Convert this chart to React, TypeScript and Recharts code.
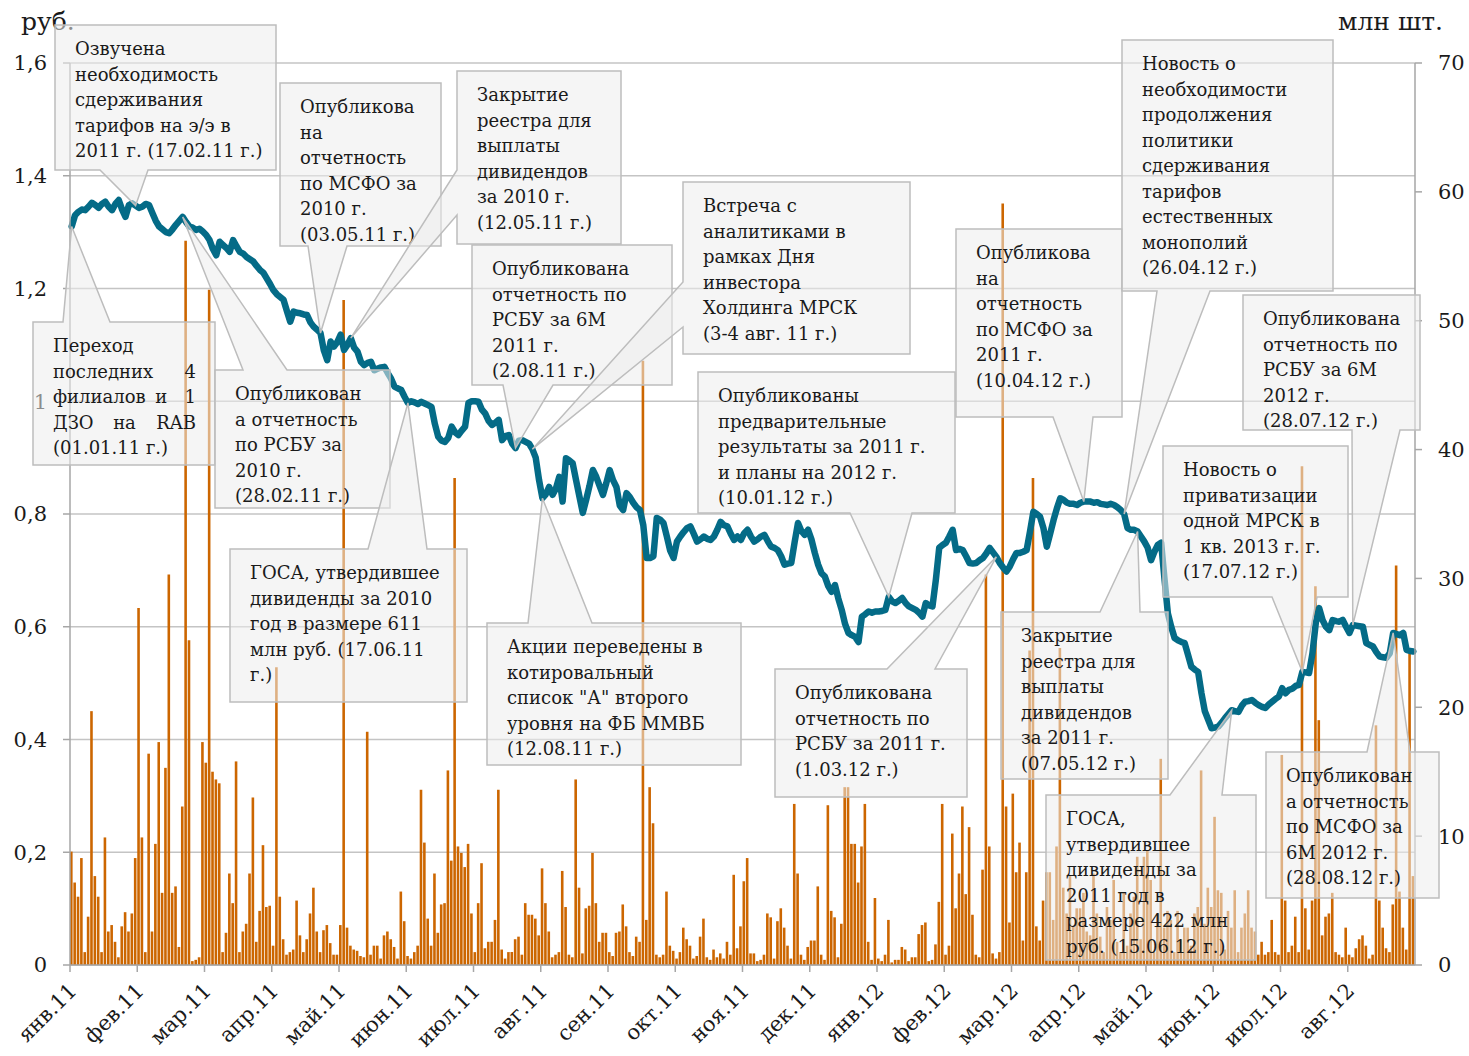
import React from "react";
import {
  Bar,
  CartesianGrid,
  ComposedChart,
  Line,
  ReferenceDot,
  XAxis,
  YAxis,
} from "recharts";

const FONT = "DejaVu Serif";

const months = [
  "янв.11", "фев.11", "мар.11", "апр.11", "май.11", "июн.11", "июл.11",
  "авг.11", "сен.11", "окт.11", "ноя.11", "дек.11", "янв.12", "фев.12",
  "мар.12", "апр.12", "май.12", "июн.12", "июл.12", "авг.12",
];

// цена акции, руб. (примерно по 20 торговых дней на месяц)
const price = [
  1.31, 1.33, 1.336, 1.34, 1.339, 1.345, 1.352, 1.348, 1.343, 1.35, 1.354, 1.345, 1.339, 1.35, 1.357, 1.34, 1.327, 1.348, 1.351, 1.347,
  1.343, 1.345, 1.35, 1.348, 1.334, 1.32, 1.31, 1.305, 1.3, 1.298, 1.305, 1.313, 1.32, 1.327, 1.318, 1.31, 1.308, 1.304, 1.306, 1.301,
  1.295, 1.286, 1.27, 1.259, 1.283, 1.277, 1.272, 1.265, 1.286, 1.275, 1.265, 1.262, 1.256, 1.252, 1.248, 1.24, 1.233, 1.228, 1.218, 1.208,
  1.197, 1.19, 1.185, 1.18, 1.16, 1.141, 1.159, 1.157, 1.156, 1.154, 1.153, 1.14, 1.132, 1.127, 1.121, 1.09, 1.073, 1.106, 1.097, 1.105,
  1.118, 1.091, 1.1, 1.112, 1.095, 1.088, 1.07, 1.064, 1.068, 1.07, 1.055, 1.058, 1.06, 1.061, 1.05, 1.04, 1.026, 1.023, 1.02, 1.008,
  0.997, 1.0, 0.998, 0.995, 0.999, 0.996, 0.993, 0.99, 0.96, 0.937, 0.93, 0.928, 0.935, 0.955, 0.945, 0.94, 0.948, 0.955, 0.997, 1.0,
  1.0, 0.999, 0.985, 0.978, 0.965, 0.958, 0.962, 0.967, 0.931, 0.938, 0.94, 0.925, 0.917, 0.93, 0.931, 0.928, 0.925, 0.915, 0.9, 0.86,
  0.828, 0.835, 0.848, 0.834, 0.845, 0.866, 0.822, 0.899, 0.895, 0.89, 0.86, 0.831, 0.802, 0.825, 0.85, 0.878, 0.866, 0.85, 0.834, 0.855,
  0.878, 0.86, 0.848, 0.815, 0.807, 0.837, 0.83, 0.82, 0.812, 0.807, 0.78, 0.722, 0.722, 0.725, 0.793, 0.79, 0.784, 0.76, 0.735, 0.722,
  0.751, 0.76, 0.768, 0.775, 0.778, 0.765, 0.751, 0.755, 0.76, 0.756, 0.754, 0.76, 0.772, 0.786, 0.78, 0.778, 0.765, 0.754, 0.76, 0.754,
  0.766, 0.772, 0.76, 0.751, 0.755, 0.76, 0.763, 0.752, 0.742, 0.74, 0.736, 0.725, 0.71, 0.712, 0.713, 0.75, 0.784, 0.77, 0.763, 0.772,
  0.755, 0.731, 0.71, 0.695, 0.689, 0.672, 0.662, 0.674, 0.65, 0.63, 0.605, 0.589, 0.585, 0.582, 0.573, 0.618, 0.622, 0.627, 0.625, 0.627,
  0.627, 0.628, 0.63, 0.653, 0.645, 0.642, 0.646, 0.651, 0.642, 0.636, 0.633, 0.63, 0.625, 0.618, 0.642, 0.638, 0.636, 0.683, 0.74, 0.745,
  0.749, 0.76, 0.772, 0.736, 0.738, 0.736, 0.725, 0.713, 0.712, 0.713, 0.718, 0.722, 0.73, 0.74, 0.732, 0.724, 0.713, 0.705, 0.698, 0.707,
  0.72, 0.731, 0.731, 0.733, 0.736, 0.769, 0.804, 0.8, 0.795, 0.775, 0.742, 0.765, 0.789, 0.81, 0.828, 0.825, 0.82, 0.818, 0.818, 0.816,
  0.82, 0.822, 0.822, 0.822, 0.82, 0.821, 0.818, 0.817, 0.816, 0.818, 0.816, 0.812, 0.807, 0.8, 0.775, 0.772, 0.772, 0.769, 0.76, 0.751,
  0.74, 0.718, 0.733, 0.745, 0.749, 0.685, 0.624, 0.6, 0.58, 0.576, 0.573, 0.571, 0.55, 0.529, 0.524, 0.52, 0.482, 0.45, 0.435, 0.42,
  0.421, 0.423, 0.43, 0.438, 0.445, 0.452, 0.45, 0.449, 0.46, 0.467, 0.468, 0.47, 0.465, 0.461, 0.458, 0.456, 0.462, 0.467, 0.472, 0.476,
  0.491, 0.482, 0.488, 0.49, 0.495, 0.497, 0.52, 0.519, 0.518, 0.553, 0.607, 0.633, 0.612, 0.6, 0.594, 0.612, 0.61, 0.609, 0.612, 0.6,
  0.589, 0.603, 0.602, 0.601, 0.6, 0.571, 0.568, 0.565, 0.555, 0.547, 0.546, 0.545, 0.553, 0.589, 0.587, 0.585, 0.589, 0.559, 0.557, 0.556,
];

// объем торгов, млн шт.
const volume = [
  8.8, 6.4, 5.3, 8.3, 1.0, 3.75, 19.7, 6.9, 5.3, 1.0, 9.9, 2.6, 3.1, 1.8, 0.6, 3.0, 4.1, 2.6, 4.0, 8.3,
  27.7, 9.9, 1.0, 16.4, 2.6, 9.4, 17.3, 5.6, 15.3, 30.3, 5.6, 6.1, 1.4, 12.3, 56.2, 25.2, 0.3, 0.4, 0.6, 17.3,
  15.7, 52.4, 15.0, 14.4, 14.1, 1.0, 2.5, 7.1, 4.8, 15.8, 1.0, 2.6, 3.2, 7.1, 13.0, 1.8, 4.2, 9.3, 4.5, 4.6,
  1.5, 23.1, 5.3, 2.0, 0.8, 1.0, 1.2, 5.0, 2.3, 1.0, 2.0, 4.0, 6.0, 2.6, 1.0, 2.7, 3.1, 1.7, 0.8, 0.8,
  3.1, 51.6, 2.9, 1.5, 1.2, 1.1, 0.7, 0.6, 18.1, 0.8, 1.5, 1.5, 0.5, 2.3, 2.6, 2.0, 1.4, 0.5, 5.7, 3.4,
  0.7, 0.5, 1.0, 1.5, 13.6, 9.5, 3.6, 1.5, 7.1, 2.5, 4.7, 4.8, 15.1, 8.1, 37.8, 9.2, 8.7, 7.6, 9.4, 4.0,
  1.0, 4.8, 7.9, 1.3, 1.8, 1.8, 3.5, 13.6, 1.2, 0.5, 1.0, 1.0, 2.0, 2.2, 0.8, 4.8, 3.9, 3.9, 3.6, 2.3,
  7.5, 4.8, 2.6, 0.6, 0.8, 1.0, 7.3, 4.5, 0.8, 0.6, 14.4, 6.0, 0.9, 4.4, 4.6, 8.7, 4.8, 1.8, 2.5, 2.5,
  1.0, 0.7, 2.5, 2.6, 4.7, 3.0, 1.0, 0.7, 2.2, 1.8, 46.9, 3.5, 13.8, 11.0, 0.8, 0.6, 0.8, 5.7, 1.5, 1.1,
  0.5, 1.0, 2.9, 2.0, 1.5, 0.5, 0.7, 2.2, 3.6, 0.6, 0.4, 1.2, 0.6, 0.9, 0.5, 1.8, 0.8, 7.0, 1.3, 3.0,
  6.5, 8.3, 0.9, 0.9, 0.3, 0.4, 0.8, 4.0, 3.7, 0.5, 3.4, 4.4, 2.9, 1.5, 0.5, 12.5, 7.1, 0.8, 0.4, 1.4,
  1.9, 1.9, 6.1, 0.8, 0.4, 12.4, 4.2, 3.7, 0.6, 3.2, 13.8, 13.8, 9.4, 9.4, 6.4, 9.2, 12.5, 1.8, 0.4, 5.2,
  0.5, 0.3, 0.8, 3.5, 0.2, 0.4, 0.4, 1.4, 1.2, 0.3, 0.6, 0.6, 2.4, 3.1, 3.3, 0.3, 0.4, 1.6, 4.9, 12.5,
  0.8, 1.5, 10.2, 4.4, 7.1, 12.3, 5.5, 10.7, 3.9, 0.8, 0.6, 7.4, 30.3, 9.2, 0.9, 0.5, 1.0, 59.1, 12.3, 3.3,
  13.3, 7.2, 9.5, 1.9, 7.2, 24.4, 37.8, 3.0, 1.9, 5.0, 7.2, 7.2, 3.5, 9.2, 24.6, 6.0, 4.0, 6.9, 3.0, 4.4,
  4.4, 5.6, 2.6, 2.3, 7.1, 4.0, 2.2, 1.0, 4.5, 3.5, 6.6, 1.8, 1.0, 5.6, 1.5, 4.0, 5.3, 8.4, 2.0, 8.4,
  8.9, 6.6, 1.0, 4.0, 16.0, 2.9, 4.2, 3.5, 1.0, 4.2, 2.0, 2.9, 2.9, 1.5, 4.0, 4.5, 15.1, 3.2, 6.0, 4.5,
  11.5, 5.8, 5.6, 1.2, 4.2, 2.9, 5.8, 1.0, 2.9, 4.0, 5.8, 2.9, 2.6, 0.8, 1.8, 0.8, 1.0, 3.5, 1.0, 0.8,
  16.3, 5.0, 1.0, 1.5, 3.75, 1.0, 38.7, 4.4, 1.2, 5.0, 29.4, 19.0, 2.3, 3.75, 4.0, 5.6, 1.0, 0.8, 0.6, 2.9,
  0.8, 0.6, 1.3, 2.0, 2.3, 1.5, 0.5, 0.8, 18.6, 5.0, 2.9, 1.3, 1.0, 4.7, 31.0, 5.7, 2.9, 1.2, 24.2, 6.9,
];

// события: текст и номер торгового дня, на который указывает выноска
const noteTexts = [
  ["Озвучена", "необходимость", "сдерживания", "тарифов на э/э в", "2011 г. (17.02.11 г.)"],
  ["Переход", "последних 4", "филиалов и 1", "ДЗО на RAB", "(01.01.11 г.)"],
  ["Опубликован", "а отчетность", "по РСБУ за", "2010 г.", "(28.02.11 г.)"],
  ["Опубликова", "на", "отчетность", "по МСФО за", "2010 г.", "(03.05.11 г.)"],
  ["Закрытие", "реестра для", "выплаты", "дивидендов", "за 2010 г.", "(12.05.11 г.)"],
  ["Опубликована", "отчетность по", "РСБУ за 6М", "2011 г.", "(2.08.11 г.)"],
  ["Встреча с", "аналитиками в", "рамках Дня", "инвестора", "Холдинга МРСК", "(3-4 авг. 11 г.)"],
  ["Опубликованы", "предварительные", "результаты за 2011 г.", "и планы на 2012 г.", "(10.01.12 г.)"],
  ["Акции переведены в", "котировальный", "список \"А\" второго", "уровня на ФБ ММВБ", "(12.08.11 г.)"],
  ["ГОСА, утвердившее", "дивиденды за 2010", "год в размере 611", "млн руб. (17.06.11", "г.)"],
  ["Опубликована", "отчетность по", "РСБУ за 2011 г.", "(1.03.12 г.)"],
  ["Закрытие", "реестра для", "выплаты", "дивидендов", "за 2011 г.", "(07.05.12 г.)"],
  ["Опубликова", "на", "отчетность", "по МСФО за", "2011 г.", "(10.04.12 г.)"],
  ["Новость о", "необходимости", "продолжения", "политики", "сдерживания", "тарифов", "естественных", "монополий", "(26.04.12 г.)"],
  ["Новость о", "приватизации", "одной МРСК в", "1 кв. 2013 г. г.", "(17.07.12 г.)"],
  ["Опубликована", "отчетность по", "РСБУ за 6М", "2012 г.", "(28.07.12 г.)"],
  ["ГОСА,", "утвердившее", "дивиденды за", "2011 год в", "размере 422 млн", "руб. (15.06.12 г.)"],
  ["Опубликован", "а отчетность", "по МСФО за", "6М 2012 г.", "(28.08.12 г.)"],
];
const noteDays = [19, 0, 33, 74, 83, 132, 137, 243, 140, 100, 275, 317, 301, 313, 366, 381, 345, 393];

// расположение выносок в пикселях: прямоугольник и основание "хвоста"
type Box = { x: number; y: number; w: number; h: number; side: "top" | "bottom" | "left"; a: number; b: number; justify?: boolean };
const boxes: Box[] = [
  { x: 55, y: 25, w: 221, h: 145, side: "bottom", a: 100, b: 148 },
  { x: 33, y: 322, w: 182, h: 143, side: "top", a: 63, b: 110, justify: true },
  { x: 215, y: 370, w: 175, h: 138, side: "top", a: 243, b: 287 },
  { x: 280, y: 83, w: 161, h: 163, side: "bottom", a: 308, b: 347 },
  { x: 457, y: 71, w: 164, h: 173, side: "left", a: 170, b: 215 },
  { x: 472, y: 245, w: 200, h: 140, side: "bottom", a: 503, b: 553 },
  { x: 683, y: 182, w: 227, h: 172, side: "left", a: 282, b: 327 },
  { x: 698, y: 372, w: 257, h: 141, side: "bottom", a: 850, b: 912 },
  { x: 487, y: 623, w: 254, h: 142, side: "top", a: 528, b: 592 },
  { x: 230, y: 549, w: 237, h: 153, side: "top", a: 368, b: 427 },
  { x: 775, y: 669, w: 192, h: 128, side: "top", a: 887, b: 935 },
  { x: 1001, y: 612, w: 167, h: 167, side: "top", a: 1100, b: 1140 },
  { x: 956, y: 229, w: 166, h: 188, side: "bottom", a: 1053, b: 1093 },
  { x: 1122, y: 40, w: 211, h: 251, side: "bottom", a: 1157, b: 1210 },
  { x: 1163, y: 446, w: 185, h: 151, side: "bottom", a: 1272, b: 1317 },
  { x: 1243, y: 295, w: 177, h: 135, side: "bottom", a: 1352, b: 1400 },
  { x: 1046, y: 795, w: 210, h: 165, side: "top", a: 1170, b: 1222 },
  { x: 1266, y: 752, w: 173, h: 146, side: "top", a: 1367, b: 1410 },
];

const data = price.map((p, i) => ({ x: i + 0.5, price: p, volume: volume[i] }));

const monthTicks = months.map((_, k) => k * 20);
const priceTicks = [0, 0.2, 0.4, 0.6, 0.8, 1, 1.2, 1.4, 1.6];
const volumeTicks = [0, 10, 20, 30, 40, 50, 60, 70];

const fmtPrice = (v: number) => String(+v.toFixed(1)).replace(".", ",");

const MonthTick = (props: any) => {
  const { x, y, payload } = props;
  return (
    <text
      transform={`translate(${x + 8},${y + 18}) rotate(-45)`}
      textAnchor="end"
      fontSize={21}
      fontFamily={FONT}
      fill="#1a1a1a"
    >
      {months[Math.round(payload.value / 20)]}
    </text>
  );
};

// грубая ширина слова для выравнивания строки по ширине
const wordWidth = (s: string) =>
  [...s].reduce((acc, ch) => acc + (/[А-ЯA-Z]/.test(ch) ? 13 : 10.5), 0);

const textProps = { fontSize: 18, fontFamily: FONT, fill: "#1a1a1a" };

const JustifiedLine = ({ text, x0, x1, y }: { text: string; x0: number; x1: number; y: number }) => {
  const words = text.split(" ");
  const first = words[0];
  const last = words[words.length - 1];
  const mid = words.slice(1, -1).join(" ");
  const midX = (x0 + wordWidth(first) + x1 - wordWidth(last)) / 2;
  return (
    <g>
      <text x={x0} y={y} {...textProps}>{first}</text>
      {mid && <text x={midX} y={y} textAnchor="middle" {...textProps}>{mid}</text>}
      <text x={x1} y={y} textAnchor="end" {...textProps}>{last}</text>
    </g>
  );
};

const Callout = ({ cx, cy, box, lines }: { cx: number; cy: number; box: Box; lines: string[] }) => {
  const { x, y, w, h, side, a, b, justify } = box;
  const r = x + w;
  const btm = y + h;
  let d = "";
  if (side === "bottom") d = `M${x},${y}H${r}V${btm}H${b}L${cx},${cy}L${a},${btm}H${x}Z`;
  else if (side === "top") d = `M${x},${y}H${a}L${cx},${cy}L${b},${y}H${r}V${btm}H${x}Z`;
  else d = `M${x},${y}H${r}V${btm}H${x}V${b}L${cx},${cy}L${x},${a}Z`;
  return (
    <g>
      <path d={d} fill="#EDEDED" fillOpacity={0.55} stroke="#BDBDBD" strokeWidth={1.5} />
      {lines.map((t, k) => {
        const ty = y + 30 + k * 25.5;
        if (justify && k > 0 && k < lines.length - 1) {
          return <JustifiedLine key={k} text={t} x0={x + 20} x1={r - 19} y={ty} />;
        }
        return (
          <text key={k} x={x + 20} y={ty} {...textProps}>
            {t}
          </text>
        );
      })}
    </g>
  );
};

const axisStroke = { stroke: "#A6A6A6", strokeWidth: 1.5 };
const titleStyle: React.CSSProperties = {
  position: "absolute",
  top: 9,
  fontSize: 25,
  lineHeight: "25px",
  fontFamily: FONT,
  color: "#1a1a1a",
};

export default function App() {
  return (
    <div style={{ position: "absolute", left: 0, top: 0, width: 1469, height: 1056, background: "#fff" }}>
      <div style={{ ...titleStyle, left: 21 }}>руб.</div>
      <div style={{ ...titleStyle, left: 1338 }}>млн шт.</div>
      <ComposedChart width={1469} height={1056} data={data} margin={{ top: 63, right: 0, bottom: 0, left: 0 }}>
        <CartesianGrid yAxisId="price" vertical={false} stroke="#C4C4C4" strokeWidth={1.5} />
        <XAxis
          dataKey="x"
          type="number"
          domain={[0, 400]}
          ticks={monthTicks}
          interval={0}
          height={91}
          tick={<MonthTick />}
          tickSize={7}
          axisLine={axisStroke}
          tickLine={axisStroke}
        />
        <YAxis
          yAxisId="price"
          domain={[0, 1.6]}
          ticks={priceTicks}
          width={70}
          tickFormatter={fmtPrice}
          tickSize={7}
          tickMargin={16}
          axisLine={axisStroke}
          tickLine={axisStroke}
          tick={{ fontSize: 21, fill: "#1a1a1a", fontFamily: FONT }}
        />
        <YAxis
          yAxisId="vol"
          orientation="right"
          domain={[0, 70]}
          ticks={volumeTicks}
          width={54}
          tickSize={7}
          tickMargin={16}
          axisLine={axisStroke}
          tickLine={axisStroke}
          tick={{ fontSize: 21, fill: "#1a1a1a", fontFamily: FONT }}
        />
        <Bar yAxisId="vol" dataKey="volume" fill="#CC6600" barSize={2.6} isAnimationActive={false} />
        <Line
          yAxisId="price"
          dataKey="price"
          type="linear"
          stroke="#046B87"
          strokeWidth={6.5}
          strokeLinejoin="round"
          strokeLinecap="round"
          dot={false}
          activeDot={false}
          isAnimationActive={false}
        />
        {noteDays.map((day, n) => (
          <ReferenceDot
            key={n}
            yAxisId="price"
            x={day + 0.5}
            y={price[day]}
            r={0}
            ifOverflow="visible"
            zIndex={3000}
            shape={(p: any) => <Callout cx={p.cx} cy={p.cy} box={boxes[n]} lines={noteTexts[n]} />}
          />
        ))}
      </ComposedChart>
    </div>
  );
}
